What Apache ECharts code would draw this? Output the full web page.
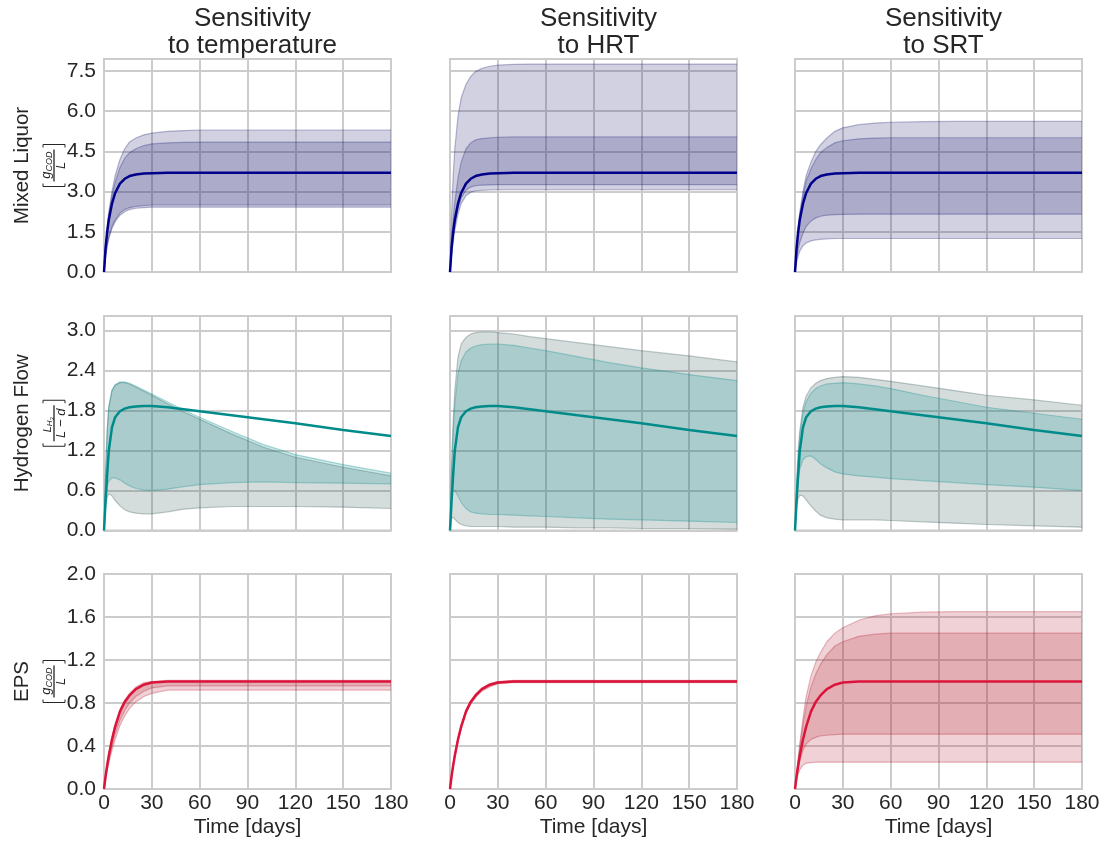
<!DOCTYPE html>
<html>
<head>
<meta charset="utf-8">
<script src="https://cdn.jsdelivr.net/npm/echarts@6/dist/echarts.min.js"></script>
<style>
  html, body { margin: 0; padding: 0; background: #fff; }
  #chart { width: 1107px; height: 842px; }
</style>
</head>
<body>
<div id="chart"></div>
<script>
// time samples (days) shared by every curve
const days = [0, 1, 2, 3, 5, 7, 10, 13, 16, 20, 25, 30, 40, 50, 60, 80, 100, 120, 150, 180];

const colTitles = ['Sensitivity\nto temperature', 'Sensitivity\nto HRT', 'Sensitivity\nto SRT'];
const rowNames = ['Mixed Liquor', 'Hydrogen Flow', 'EPS'];
const yMax = [7.95, 3.22, 2.0];
const yStep = [1.5, 0.6, 0.4];

// ---- Mixed liquor
const mlMean = [0, 0.9, 1.5, 1.95, 2.55, 2.95, 3.3, 3.48, 3.58, 3.64, 3.68, 3.69, 3.7, 3.7, 3.7, 3.7, 3.7, 3.7, 3.7, 3.7];
const mlTempOutHi = [0, 1.0, 1.7, 2.25, 3.0, 3.6, 4.2, 4.6, 4.85, 5.0, 5.12, 5.18, 5.25, 5.28, 5.3, 5.3, 5.3, 5.3, 5.3, 5.3];
const mlTempOutLo = [0, 0.55, 0.95, 1.25, 1.62, 1.88, 2.12, 2.25, 2.33, 2.38, 2.4, 2.42, 2.42, 2.42, 2.42, 2.42, 2.42, 2.42, 2.42, 2.42];
const mlTempInHi = [0, 0.95, 1.6, 2.1, 2.85, 3.35, 3.9, 4.25, 4.45, 4.6, 4.72, 4.78, 4.82, 4.84, 4.85, 4.85, 4.85, 4.85, 4.85, 4.85];
const mlTempInLo = [0, 0.6, 1.0, 1.3, 1.7, 1.95, 2.2, 2.33, 2.4, 2.45, 2.48, 2.5, 2.5, 2.5, 2.5, 2.5, 2.5, 2.5, 2.5, 2.5];
const mlHrtOutHi = [0, 2.2, 3.6, 4.6, 5.8, 6.5, 7.0, 7.3, 7.48, 7.6, 7.68, 7.72, 7.75, 7.76, 7.76, 7.76, 7.76, 7.76, 7.76, 7.76];
const mlHrtOutLo = [0, 0.65, 1.15, 1.55, 2.15, 2.55, 2.85, 2.98, 3.03, 3.05, 3.06, 3.07, 3.07, 3.07, 3.07, 3.07, 3.07, 3.07, 3.07, 3.07];
const mlHrtInHi = [0, 1.2, 2.0, 2.6, 3.5, 4.1, 4.6, 4.82, 4.93, 4.98, 5.01, 5.03, 5.04, 5.04, 5.04, 5.04, 5.04, 5.04, 5.04, 5.04];
const mlHrtInLo = [0, 0.75, 1.3, 1.75, 2.35, 2.75, 3.05, 3.17, 3.22, 3.24, 3.25, 3.26, 3.26, 3.26, 3.26, 3.26, 3.26, 3.26, 3.26, 3.26];
const mlSrtOutHi = [0, 1.0, 1.7, 2.25, 3.0, 3.6, 4.1, 4.5, 4.75, 5.0, 5.25, 5.38, 5.5, 5.56, 5.59, 5.61, 5.62, 5.62, 5.62, 5.62];
const mlSrtOutLo = [0, 0.35, 0.6, 0.78, 0.98, 1.08, 1.16, 1.2, 1.22, 1.24, 1.25, 1.25, 1.25, 1.25, 1.25, 1.25, 1.25, 1.25, 1.25, 1.25];
const mlSrtInHi = [0, 0.95, 1.6, 2.1, 2.85, 3.4, 3.85, 4.2, 4.45, 4.65, 4.82, 4.9, 4.97, 5.0, 5.01, 5.01, 5.01, 5.01, 5.01, 5.01];
const mlSrtInLo = [0, 0.5, 0.85, 1.1, 1.45, 1.7, 1.9, 2.02, 2.08, 2.12, 2.14, 2.15, 2.16, 2.16, 2.16, 2.16, 2.16, 2.16, 2.16, 2.16];

// ---- Hydrogen flow
const h2Mean = [0, 0.45, 0.85, 1.2, 1.55, 1.7, 1.79, 1.83, 1.85, 1.86, 1.87, 1.87, 1.85, 1.82, 1.79, 1.73, 1.67, 1.61, 1.51, 1.42];
const h2TempOutHi = [0, 0.9, 1.5, 1.85, 2.1, 2.18, 2.22, 2.22, 2.2, 2.15, 2.09, 2.03, 1.9, 1.78, 1.67, 1.45, 1.25, 1.1, 0.95, 0.82];
const h2TempOutLo = [0, 0.35, 0.5, 0.55, 0.52, 0.45, 0.37, 0.31, 0.28, 0.26, 0.25, 0.25, 0.28, 0.32, 0.34, 0.36, 0.36, 0.36, 0.35, 0.33];
const h2TempInHi = [0, 0.9, 1.5, 1.86, 2.11, 2.19, 2.23, 2.23, 2.21, 2.17, 2.11, 2.05, 1.93, 1.81, 1.7, 1.49, 1.29, 1.14, 0.99, 0.86];
const h2TempInLo = [0, 0.45, 0.65, 0.74, 0.79, 0.79, 0.76, 0.71, 0.67, 0.63, 0.61, 0.6, 0.62, 0.66, 0.69, 0.72, 0.73, 0.72, 0.71, 0.7];
const h2HrtOutHi = [0, 1.0, 1.65, 2.1, 2.6, 2.8, 2.9, 2.95, 2.97, 2.98, 2.98, 2.97, 2.95, 2.91, 2.88, 2.82, 2.76, 2.7, 2.62, 2.53];
const h2HrtOutLo = [0, 0.18, 0.2, 0.17, 0.12, 0.09, 0.07, 0.06, 0.06, 0.06, 0.06, 0.06, 0.05, 0.05, 0.05, 0.04, 0.04, 0.03, 0.03, 0.02];
const h2HrtInHi = [0, 0.9, 1.5, 1.9, 2.35, 2.55, 2.68, 2.74, 2.77, 2.79, 2.8, 2.8, 2.78, 2.74, 2.7, 2.61, 2.52, 2.44, 2.34, 2.25];
const h2HrtInLo = [0, 0.5, 0.6, 0.6, 0.52, 0.42, 0.33, 0.28, 0.26, 0.25, 0.24, 0.24, 0.23, 0.22, 0.21, 0.19, 0.17, 0.16, 0.14, 0.12];
const h2SrtOutHi = [0, 0.7, 1.2, 1.5, 1.85, 2.02, 2.14, 2.21, 2.25, 2.28, 2.3, 2.31, 2.3, 2.27, 2.24, 2.17, 2.1, 2.03, 1.96, 1.88];
const h2SrtOutLo = [0, 0.35, 0.48, 0.53, 0.52, 0.46, 0.37, 0.29, 0.23, 0.19, 0.17, 0.16, 0.16, 0.16, 0.15, 0.13, 0.11, 0.09, 0.07, 0.05];
const h2SrtInHi = [0, 0.65, 1.12, 1.42, 1.77, 1.94, 2.06, 2.13, 2.17, 2.2, 2.21, 2.22, 2.2, 2.17, 2.13, 2.03, 1.94, 1.85, 1.76, 1.67];
const h2SrtInLo = [0, 0.45, 0.75, 0.92, 1.06, 1.11, 1.12, 1.07, 1.0, 0.94, 0.88, 0.85, 0.82, 0.8, 0.78, 0.75, 0.72, 0.69, 0.65, 0.6];

// ---- EPS
const epsMean = [0, 0.12, 0.22, 0.31, 0.46, 0.58, 0.72, 0.81, 0.87, 0.93, 0.97, 0.99, 1.0, 1.0, 1.0, 1.0, 1.0, 1.0, 1.0, 1.0];
const epsTempOutHi = [0, 0.13, 0.24, 0.33, 0.48, 0.6, 0.74, 0.83, 0.89, 0.95, 0.99, 1.0, 1.01, 1.01, 1.01, 1.01, 1.01, 1.01, 1.01, 1.01];
const epsTempOutLo = [0, 0.09, 0.17, 0.24, 0.36, 0.46, 0.59, 0.68, 0.75, 0.81, 0.86, 0.89, 0.92, 0.92, 0.92, 0.92, 0.92, 0.92, 0.92, 0.92];
const epsTempInHi = [0, 0.12, 0.22, 0.31, 0.46, 0.58, 0.72, 0.81, 0.87, 0.93, 0.97, 0.99, 1.0, 1.0, 1.0, 1.0, 1.0, 1.0, 1.0, 1.0];
const epsTempInLo = [0, 0.1, 0.19, 0.27, 0.4, 0.51, 0.64, 0.73, 0.8, 0.86, 0.91, 0.94, 0.96, 0.96, 0.96, 0.96, 0.96, 0.96, 0.96, 0.96];
const epsHrtOutHi = [0, 0.13, 0.23, 0.32, 0.47, 0.59, 0.73, 0.82, 0.88, 0.94, 0.98, 1.0, 1.01, 1.01, 1.01, 1.01, 1.01, 1.01, 1.01, 1.01];
const epsHrtOutLo = [0, 0.11, 0.21, 0.29, 0.44, 0.56, 0.7, 0.79, 0.85, 0.91, 0.95, 0.98, 0.99, 0.99, 0.99, 0.99, 0.99, 0.99, 0.99, 0.99];
const epsHrtInHi = [0, 0.125, 0.225, 0.315, 0.465, 0.585, 0.725, 0.815, 0.875, 0.935, 0.975, 0.995, 1.005, 1.005, 1.005, 1.005, 1.005, 1.005, 1.005, 1.005];
const epsHrtInLo = [0, 0.115, 0.215, 0.3, 0.45, 0.57, 0.71, 0.8, 0.86, 0.92, 0.96, 0.985, 0.995, 0.995, 0.995, 0.995, 0.995, 0.995, 0.995, 0.995];
const epsSrtOutHi = [0, 0.15, 0.29, 0.42, 0.66, 0.86, 1.05, 1.18, 1.27, 1.37, 1.45, 1.5, 1.57, 1.61, 1.63, 1.645, 1.65, 1.65, 1.65, 1.65];
const epsSrtOutLo = [0, 0.08, 0.14, 0.18, 0.22, 0.24, 0.245, 0.25, 0.25, 0.25, 0.25, 0.25, 0.25, 0.25, 0.25, 0.25, 0.25, 0.25, 0.25, 0.25];
const epsSrtInHi = [0, 0.14, 0.27, 0.39, 0.6, 0.77, 0.95, 1.07, 1.16, 1.25, 1.33, 1.37, 1.42, 1.44, 1.45, 1.45, 1.45, 1.45, 1.45, 1.45];
const epsSrtInLo = [0, 0.1, 0.19, 0.26, 0.36, 0.42, 0.46, 0.48, 0.495, 0.5, 0.505, 0.51, 0.51, 0.51, 0.51, 0.51, 0.51, 0.51, 0.51, 0.51];

// colours per row: mean line, outer band, inner band
const lineColors = ['#00008b', '#008b8b', '#dc143c'];
const outerFill = ['rgba(25,25,112,0.2)', 'rgba(47,79,79,0.2)', 'rgba(180,30,50,0.2)'];
const innerFill = ['rgba(25,25,112,0.2)', 'rgba(0,139,139,0.2)', 'rgba(180,30,50,0.2)'];
const outerEdge = ['rgba(25,25,112,0.3)', 'rgba(47,79,79,0.3)', 'rgba(180,30,50,0.3)'];
const innerEdge = ['rgba(25,25,112,0.3)', 'rgba(0,139,139,0.3)', 'rgba(180,30,50,0.3)'];

const means = [mlMean, h2Mean, epsMean];
const panels = [
  [[mlTempOutLo, mlTempOutHi, mlTempInLo, mlTempInHi], [mlHrtOutLo, mlHrtOutHi, mlHrtInLo, mlHrtInHi], [mlSrtOutLo, mlSrtOutHi, mlSrtInLo, mlSrtInHi]],
  [[h2TempOutLo, h2TempOutHi, h2TempInLo, h2TempInHi], [h2HrtOutLo, h2HrtOutHi, h2HrtInLo, h2HrtInHi], [h2SrtOutLo, h2SrtOutHi, h2SrtInLo, h2SrtInHi]],
  [[epsTempOutLo, epsTempOutHi, epsTempInLo, epsTempInHi], [epsHrtOutLo, epsHrtOutHi, epsHrtInLo, epsHrtInHi], [epsSrtOutLo, epsSrtOutHi, epsSrtInLo, epsSrtInHi]]
];

// layout
const colLeft = [104, 450, 795];
const colWidth = 287;
const rowTop = [59, 316, 574];
const rowHeight = [213, 214.5, 215];
const textColor = '#262626';
const gridColor = '#cccccc';
const font = "'Liberation Sans', Arial, sans-serif";

function bandSeries(gi, lo, hi, fill, edge) {
    return {
        type: 'custom',
        xAxisIndex: gi,
        yAxisIndex: gi,
        clip: true,
        silent: true,
        data: [[0, 0]],
        renderItem: function (params, api) {
            const top = days.map((d, i) => api.coord([d, hi[i]]));
            const bot = days.map((d, i) => api.coord([d, lo[i]]));
            return {
                type: 'group',
                children: [
                    { type: 'polygon', shape: { points: top.concat(bot.slice().reverse()) }, style: { fill: fill } },
                    { type: 'polyline', shape: { points: top }, style: { stroke: edge, lineWidth: 1.2, fill: null } },
                    { type: 'polyline', shape: { points: bot }, style: { stroke: edge, lineWidth: 1.2, fill: null } }
                ]
            };
        }
    };
}

const grids = [], xAxes = [], yAxes = [], series = [], titles = [];

for (let r = 0; r < 3; r++) {
    for (let c = 0; c < 3; c++) {
        const gi = r * 3 + c;
        grids.push({
            left: colLeft[c], top: rowTop[r], width: colWidth, height: rowHeight[r],
            show: true, borderColor: gridColor, borderWidth: 2, backgroundColor: '#fff'
        });
        xAxes.push({
            gridIndex: gi, type: 'value', min: 0, max: 180, interval: 30,
            axisLine: { show: false }, axisTick: { show: false },
            axisLabel: { show: r === 2, fontSize: 21, color: textColor, margin: 4, fontFamily: font },
            splitLine: { show: true, lineStyle: { color: gridColor, width: 2 } },
            name: r === 2 ? 'Time [days]' : '',
            nameLocation: 'middle', nameGap: 28,
            nameTextStyle: { fontSize: 21, color: textColor, fontFamily: font }
        });
        yAxes.push({
            gridIndex: gi, type: 'value', min: 0, max: yMax[r], interval: yStep[r],
            axisLine: { show: false }, axisTick: { show: false },
            axisLabel: {
                show: c === 0, fontSize: 21, color: textColor, margin: 8, fontFamily: font,
                showMaxLabel: r === 2,
                formatter: v => v.toFixed(1)
            },
            splitLine: { show: true, lineStyle: { color: gridColor, width: 2 } }
        });
        const p = panels[r][c];
        series.push(bandSeries(gi, p[0], p[1], outerFill[r], outerEdge[r]));
        series.push(bandSeries(gi, p[2], p[3], innerFill[r], innerEdge[r]));
        series.push({
            type: 'line', xAxisIndex: gi, yAxisIndex: gi,
            data: days.map((d, i) => [d, means[r][i]]),
            showSymbol: false, smooth: false, silent: true,
            lineStyle: { color: lineColors[r], width: 2.5 }, z: 3
        });
    }
}

colTitles.forEach((t, c) => {
    titles.push({
        text: t, left: colLeft[c] + colWidth / 2, top: 0, textAlign: 'center',
        textStyle: { fontSize: 26, lineHeight: 27, fontWeight: 'normal', color: textColor, fontFamily: font }
    });
});

// rotated y labels with bracketed unit fractions
function bracket(w, f) {
    const s = { stroke: textColor, lineWidth: 1, fill: null };
    return [
        { type: 'polyline', shape: { points: [[-w + 3, f - 11], [-w, f - 11], [-w, f + 11], [-w + 3, f + 11]] }, style: s },
        { type: 'polyline', shape: { points: [[w - 3, f - 11], [w, f - 11], [w, f + 11], [w - 3, f + 11]] }, style: s }
    ];
}
function txt(x, y, text, size, align, valign, italic) {
    return {
        type: 'text', x: x, y: y,
        style: { text: text, fontSize: size, fontFamily: font, fontStyle: italic ? 'italic' : 'normal',
                 fill: textColor, align: align, verticalAlign: valign }
    };
}
function codFraction(f) {
    return [
        txt(-6, f - 1, 'g', 13, 'right', 'bottom', true),
        txt(-6, f, 'COD', 9, 'left', 'bottom', true),
        { type: 'line', shape: { x1: -16, y1: f, x2: 16, y2: f }, style: { stroke: textColor, lineWidth: 1.3 } },
        txt(0, f + 1, 'L', 13, 'center', 'top', true)
    ].concat(bracket(21, f));
}
function h2Fraction(f) {
    return [
        txt(-3, f - 1, 'L', 11, 'right', 'bottom', true),
        txt(-3, f, 'H', 8, 'left', 'bottom', true),
        txt(3, f + 1, '2', 6, 'left', 'bottom', false),
        { type: 'line', shape: { x1: -18, y1: f, x2: 18, y2: f }, style: { stroke: textColor, lineWidth: 1.3 } },
        txt(0, f + 1, 'L − d', 13, 'center', 'top', true)
    ].concat(bracket(23, f));
}

const fracs = [codFraction, h2Fraction, codFraction];
const graphics = rowNames.map((name, r) => ({
    type: 'group',
    x: 22,
    y: rowTop[r] + rowHeight[r] / 2,
    rotation: Math.PI / 2,
    children: [txt(0, 0, name, 20.5, 'center', 'middle', false)].concat(fracs[r](32))
}));

const myChart = echarts.init(document.getElementById('chart'), null, { renderer: 'canvas' });
myChart.setOption({
    animation: false,
    backgroundColor: '#fff',
    textStyle: { fontFamily: font },
    title: titles,
    grid: grids,
    xAxis: xAxes,
    yAxis: yAxes,
    series: series,
    graphic: graphics
});
</script>
</body>
</html>
